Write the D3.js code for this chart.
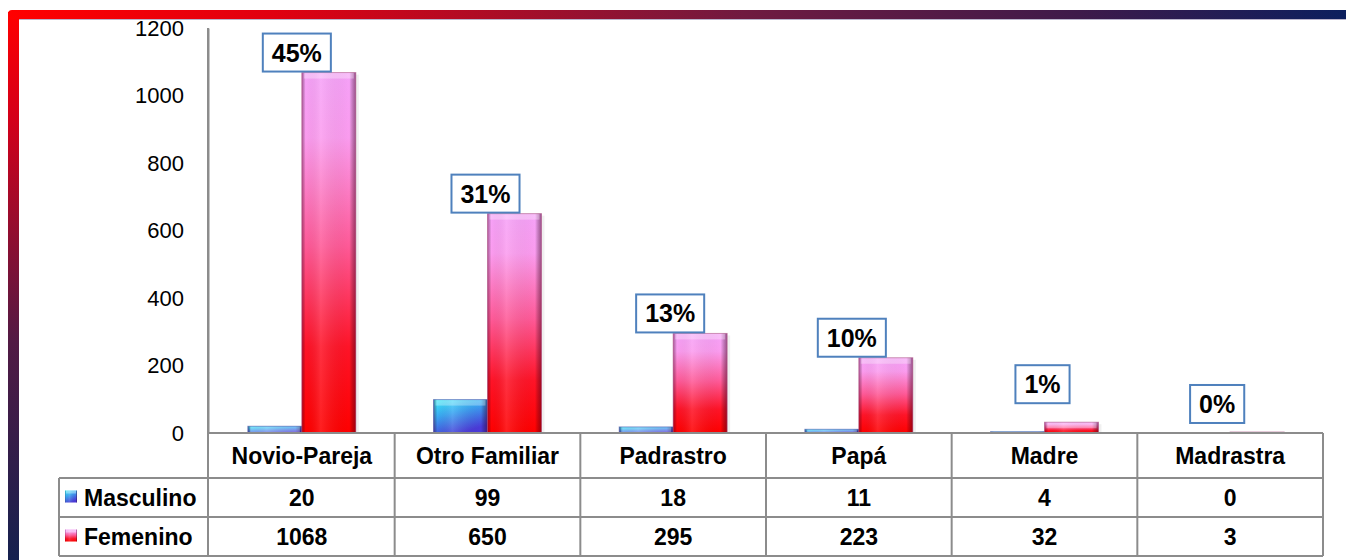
<!DOCTYPE html>
<meta charset="utf-8">
<script src="https://d3js.org/d3.v7.min.js"></script>
<style>
body { margin: 0; background: #fff; }
svg { display: block; font-family: "Liberation Sans", Arial, sans-serif; }
</style>
<body>
<div id="chart"></div>
<script>

// chart values
var categories = ["Novio-Pareja", "Otro Familiar", "Padrastro", "Papá", "Madre", "Madrastra"];
var seriesNames = ["Masculino", "Femenino"];
var masculino = [20, 99, 18, 11, 4, 0];
var femenino = [1068, 650, 295, 223, 32, 3];
var percentLabels = ["45%", "31%", "13%", "10%", "1%", "0%"];
var yTicks = [0, 200, 400, 600, 800, 1000, 1200];

var W = 1346, H = 560;
var plot = {left: 209, right: 1323, top: 28, bottom: 433};
var tableLeft = 59;
var rows = [433, 478, 517, 556];   // header / masculino / femenino row edges
var gridColor = "#8c8c8c";

var svg = d3.select("#chart").append("svg")
    .attr("width", W)
    .attr("height", H);
var defs = svg.append("defs");

function gradient(id, stops, x2, y2) {
  var g = defs.append("linearGradient")
      .attr("id", id)
      .attr("x1", 0).attr("y1", 0)
      .attr("x2", x2).attr("y2", y2);
  stops.forEach(function(s) {
    g.append("stop").attr("offset", s[0]).attr("stop-color", s[1])
      .attr("stop-opacity", s[2] == null ? 1 : s[2]);
  });
}

gradient("redBar", [[0, "#f6a2f8"], [0.18, "#fb9cef"], [0.48, "#ff5a98"], [0.76, "#ff1428"], [1, "#ff0000"]], 0, 1);
gradient("blueBar", [[0, "#3cf0fb"], [0.45, "#3aa6f2"], [1, "#4a3ad8"]], 0.5, 1);
gradient("shade", [[0, "#5a0030", 0.45], [0.07, "#000", 0], [0.35, "#fff", 0.12], [0.88, "#000", 0], [1, "#400020", 0.5]], 1, 0);
gradient("frameTop", [[0, "#ff0000"], [0.2, "#e00010"], [0.55, "#701a40"], [0.8, "#3e1a4a"], [1, "#0c1f5e"]], 1, 0);
gradient("frameLeft", [[0, "#ff0000"], [0.2, "#d2001a"], [0.6, "#521a44"], [1, "#15214f"]], 0, 1);

// scales
var x = d3.scaleBand()
    .domain(categories)
    .range([plot.left, plot.right])
    .padding(0);

var xs = d3.scaleBand()
    .domain(seriesNames)
    .range([0, x.bandwidth()])
    .paddingInner(0)
    .paddingOuter(0.72);

var y = d3.scaleLinear()
    .domain([0, 1200])
    .range([plot.bottom, plot.top]);

// y axis
var yAxis = svg.append("g")
    .attr("transform", "translate(" + (plot.left - 1) + ",0)")
    .call(d3.axisLeft(y).tickValues(yTicks).tickFormat(d3.format("d"))
      .tickSize(0).tickSizeOuter(0).tickPadding(24));
yAxis.select(".domain").attr("stroke", gridColor).attr("stroke-width", 2);
yAxis.selectAll("text")
    .attr("fill", "#000")
    .style("font-size", "22px")
    .style("font-family", "'Liberation Sans', Arial, sans-serif");

// bars
var barData = [];
categories.forEach(function(c, i) {
  barData.push({cat: c, s: "Masculino", v: masculino[i]});
  barData.push({cat: c, s: "Femenino", v: femenino[i]});
});

var bars = svg.append("g").selectAll("g.bar")
    .data(barData)
    .enter().append("g")
    .attr("class", "bar")
    .attr("transform", function(d) { return "translate(" + (x(d.cat) + xs(d.s)) + ",0)"; });

bars.filter(function(d) { return d.v > 0; }).each(function(d) {
  var g = d3.select(this);
  var w = xs.bandwidth();
  var top = y(d.v), h = Math.max(y(0) - top, 1);
  if (h === 1) top = y(0) - 1;
  // soft shadow
  g.append("rect")
    .attr("x", 3).attr("y", top + 2)
    .attr("width", w).attr("height", h - 2 > 0 ? h - 2 : 0)
    .attr("fill", "#000").attr("opacity", 0.06);
  g.append("rect")
    .attr("y", top).attr("width", w).attr("height", h)
    .attr("fill", d.s === "Femenino" ? "url(#redBar)" : "url(#blueBar)");
  g.append("rect")
    .attr("y", top).attr("width", w).attr("height", h)
    .attr("fill", "url(#shade)");
  var cap = Math.min(6, h);
  g.append("rect")
    .attr("x", 2).attr("y", top).attr("width", w - 4).attr("height", cap)
    .attr("fill", "#fff").attr("opacity", 0.3);
  g.append("rect")
    .attr("y", top).attr("width", w).attr("height", h)
    .attr("fill", "none")
    .attr("stroke", d.s === "Femenino" ? "#a8507e" : "#4a4aa8")
    .attr("stroke-opacity", 0.55)
    .attr("stroke-width", 1);
});

// percentage labels (small nudges where the original boxes were moved)
var labelShift = [[-5, 1], [-2, 1], [-3, 1], [-7, 1], [-2, 19], [-13, 9]];
var labels = svg.append("g").selectAll("g.pct")
    .data(percentLabels)
    .enter().append("g")
    .attr("class", "pct");

labels.each(function(d, i) {
  var g = d3.select(this);
  var cx = x(categories[i]) + x.bandwidth() / 2 + labelShift[i][0];
  var bottom = y(femenino[i]) - labelShift[i][1];
  var box = g.append("rect");
  var t = g.append("text")
      .attr("x", cx)
      .attr("y", bottom - 19)
      .attr("dy", "0.36em")
      .attr("text-anchor", "middle")
      .style("font-size", "25px")
      .style("font-weight", "bold")
      .text(d);
  var tw = t.node().getComputedTextLength();
  box.attr("x", cx - tw / 2 - 9)
    .attr("y", bottom - 38)
    .attr("width", tw + 18)
    .attr("height", 38)
    .attr("fill", "#fff")
    .attr("stroke", "#4f81bd")
    .attr("stroke-width", 2);
});

// data table
var table = svg.append("g").attr("stroke", gridColor).attr("stroke-width", 2);
table.append("line").attr("x1", plot.left).attr("x2", plot.right).attr("y1", rows[0]).attr("y2", rows[0]);
rows.slice(1).forEach(function(r) {
  table.append("line").attr("x1", tableLeft).attr("x2", plot.right).attr("y1", r).attr("y2", r);
});
table.append("line").attr("x1", tableLeft).attr("x2", tableLeft).attr("y1", rows[1]).attr("y2", rows[3]);
table.append("line").attr("x1", plot.left - 1).attr("x2", plot.left - 1).attr("y1", plot.top).attr("y2", rows[3]);
categories.forEach(function(c, i) {
  var xe = x(c) + x.bandwidth();
  table.append("line").attr("x1", xe).attr("x2", xe).attr("y1", rows[0]).attr("y2", rows[3]);
});

var cells = svg.append("g")
    .style("font-size", "23px")
    .style("font-weight", "bold")
    .attr("text-anchor", "middle");

function rowText(values, r) {
  cells.selectAll(null)
    .data(values)
    .enter().append("text")
    .attr("x", function(d, i) { return x(categories[i]) + x.bandwidth() / 2; })
    .attr("y", (rows[r] + rows[r + 1]) / 2)
    .attr("dy", "0.36em")
    .text(function(d) { return d; });
}
rowText(categories, 0);
rowText(masculino, 1);
rowText(femenino, 2);

// legend keys in the row headers
seriesNames.forEach(function(s, i) {
  var cy = (rows[i + 1] + rows[i + 2]) / 2;
  var key = svg.append("g").attr("transform", "translate(65," + (cy - 7) + ")");
  key.append("rect").attr("width", 12).attr("height", 12)
    .attr("fill", s === "Femenino" ? "url(#redBar)" : "url(#blueBar)");
  key.append("rect").attr("width", 12).attr("height", 12).attr("fill", "url(#shade)");
  key.append("rect").attr("x", 1).attr("width", 10).attr("height", 3).attr("fill", "#fff").attr("opacity", 0.35);
  svg.append("text")
    .attr("x", 84)
    .attr("y", cy)
    .attr("dy", "0.36em")
    .style("font-size", "23px")
    .style("font-weight", "bold")
    .text(s);
});

// frame
svg.append("rect")
    .attr("x", 8).attr("y", 12).attr("width", 11).attr("height", H - 12)
    .attr("fill", "url(#frameLeft)");
svg.append("path")
    .attr("d", "M8,19 L8,14 Q8,10 12,10 L" + W + ",10 L" + W + ",19 Z")
    .attr("fill", "url(#frameTop)");
svg.append("line")
    .attr("x1", 19).attr("x2", W).attr("y1", 19.5).attr("y2", 19.5)
    .attr("stroke", "#8a80a8").attr("stroke-opacity", 0.6);

</script>
</body>
